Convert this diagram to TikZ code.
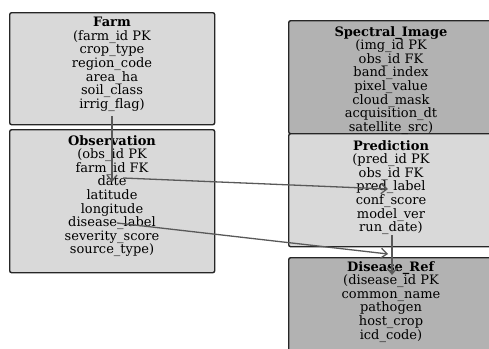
\documentclass[tikz,border=0pt]{standalone}
\usepackage{fontspec}
\setmainfont{DejaVu Serif}
\usetikzlibrary{calc,arrows.meta}

\tikzset{
  tbl/.style={draw=black!85, line width=1.4pt, rounded corners=2pt, anchor=north west, inner sep=0pt},
  litebox/.style={tbl, fill=black!15},
  darkbox/.style={tbl, fill=black!30},
  fields/.style={anchor=base, align=center, inner sep=0pt, font=\fontsize{13}{13.6}\selectfont},
  rel/.style={draw=black!65, line width=1.3pt, -{Straight Barb[length=6pt,width=10pt]}}
}

\begin{document}
\begin{tikzpicture}[x=1pt,y=-1pt]
    \useasboundingbox (0,0) rectangle (489,348);
    \clip (0,0) rectangle (489,348);

    % tables
    \node[litebox, minimum width=205pt, minimum height=112pt] (farm) at (9,12) {};
    \node[litebox, minimum width=205pt, minimum height=143pt] (obs) at (9,129) {};
    \node[darkbox, minimum width=206pt, minimum height=113pt] (img) at (288,20) {};
    \node[litebox, minimum width=206pt, minimum height=113pt] (pred) at (288,133) {};
    \node[darkbox, minimum width=206pt, minimum height=110pt] (dis) at (288,257) {};

    % base = last line of each list
    \node[fields] (farm-txt) at (112,108.2) {\textbf{Farm}\\(farm\_id PK\\crop\_type\\region\_code\\area\_ha\\soil\_class\\irrig\_flag)};
    \node[fields] (obs-txt) at (112,253.8) {\textbf{Observation}\\(obs\_id PK\\farm\_id FK\\date\\latitude\\longitude\\disease\_label\\severity\_score\\source\_type)};
    \node[fields] (img-txt) at (391,131.2) {\textbf{Spectral\_Image}\\(img\_id PK\\obs\_id FK\\band\_index\\pixel\_value\\cloud\_mask\\acquisition\_dt\\satellite\_src)};
    \node[fields] (pred-txt) at (391,231.6) {\textbf{Prediction}\\(pred\_id PK\\obs\_id FK\\pred\_label\\conf\_score\\model\_ver\\run\_date)};
    \node[fields] (dis-txt) at (391,339) {\textbf{Disease\_Ref}\\(disease\_id PK\\common\_name\\pathogen\\host\_crop\\icd\_code)};

    % relations
    \coordinate (farm-out) at (112,116);
    \coordinate (obs-in) at (112,182);
    \coordinate (obs-date) at (123,178);
    \coordinate (pred-in) at (388,189);
    \coordinate (obs-label) at (117,223);
    \coordinate (dis-in) at (388,254);
    \coordinate (pred-out) at (392,235);
    \coordinate (dis-top) at (392,275);

    \draw[rel] (farm-out) -- (obs-in);
    \draw[rel] (obs-date) -- (pred-in);
    \draw[rel] (obs-label) -- (dis-in);
    \draw[rel] (pred-out) -- (dis-top);
\end{tikzpicture}
\end{document}
